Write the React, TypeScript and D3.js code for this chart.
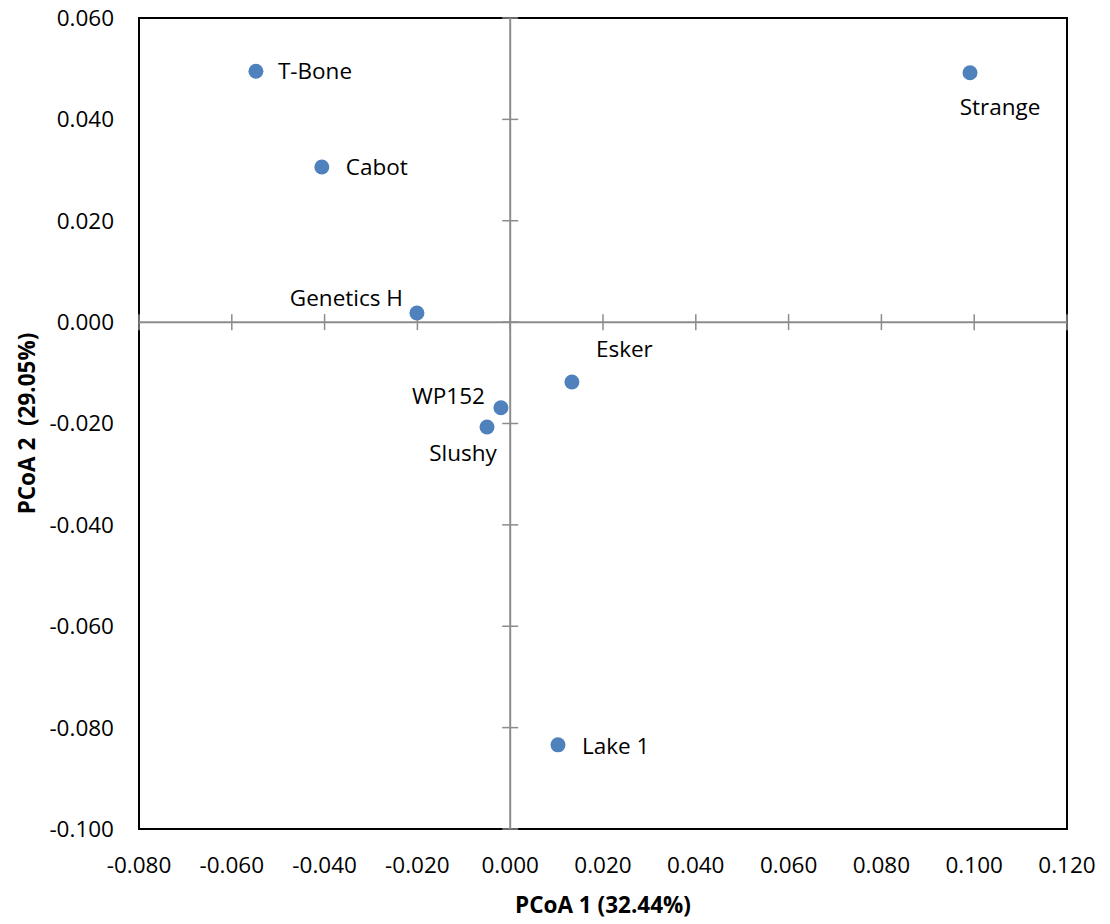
import React from "react";
import * as d3 from "d3";

const names = ["T-Bone", "Cabot", "Genetics H", "Strange", "Esker", "WP152", "Slushy", "Lake 1"];
const pcoa1 = [-0.0548, -0.0406, -0.0201, 0.0991, 0.0133, -0.002, -0.005, 0.0103];
const pcoa2 = [0.0495, 0.0306, 0.0018, 0.0492, -0.0118, -0.0169, -0.0207, -0.0834];
const xTicks = [-0.08, -0.06, -0.04, -0.02, 0, 0.02, 0.04, 0.06, 0.08, 0.1, 0.12];
const yTicks = [0.06, 0.04, 0.02, 0, -0.02, -0.04, -0.06, -0.08, -0.1];

// label placement (layout only)
const labelDx = [22, 24, -14, 30, 24, -16, -24, 24];
const labelDy = [0, 0, -15, 34, -33, -12, 26, 1];
const labelAnchor = ["start", "start", "end", "middle", "start", "end", "middle", "start"];

const W = 1110, H = 924;
const L = 139, R = 1067, T = 18, B = 829;
const FONT = "'Open Sans', sans-serif";
const FS = 22.5;

const fmtTick = (t: number) => {
  const s = d3.format(".3f")(Math.abs(t) < 1e-12 ? 0 : t);
  return s.replace("\u2212", "-");
};

export default function App() {
  const x = d3.scaleLinear().domain([-0.08, 0.12]).range([L, R]);
  const y = d3.scaleLinear().domain([-0.1, 0.06]).range([B, T]);
  const x0 = x(0), y0 = y(0);
  const gray = "#8c8c8c";
  return (
    <svg width={W} height={H} style={{ position: "absolute", left: 0, top: 0, background: "#fff" }}>
      <rect x={L} y={T} width={R - L} height={B - T} fill="none" stroke="#000" strokeWidth={2} />
      <line x1={L} x2={R} y1={y0} y2={y0} stroke={gray} strokeWidth={2} />
      <line x1={x0} x2={x0} y1={T} y2={B} stroke={gray} strokeWidth={2} />
      {xTicks.map((t, i) => (
        <line key={"xt" + i} x1={x(t)} x2={x(t)} y1={y0 - 8} y2={y0 + 8} stroke={gray} strokeWidth={1.5} />
      ))}
      {yTicks.map((t, i) => (
        <line key={"yt" + i} x1={x0 - 8} x2={x0 + 8} y1={y(t)} y2={y(t)} stroke={gray} strokeWidth={1.5} />
      ))}
      {xTicks.map((t, i) => (
        <text key={"xl" + i} x={x(t)} y={B + 44} textAnchor="middle" fontFamily={FONT} fontSize={FS} fill="#000">
          {fmtTick(t)}
        </text>
      ))}
      {yTicks.map((t, i) => (
        <text key={"yl" + i} x={L - 25} y={y(t)} dy="0.35em" textAnchor="end" fontFamily={FONT} fontSize={FS} fill="#000">
          {fmtTick(t)}
        </text>
      ))}
      {names.map((n, i) => (
        <circle key={"c" + i} cx={x(pcoa1[i])} cy={y(pcoa2[i])} r={7.5} fill="#4f81bd" />
      ))}
      {names.map((n, i) => (
        <text
          key={"n" + i}
          x={x(pcoa1[i]) + labelDx[i]}
          y={y(pcoa2[i]) + labelDy[i]}
          dy="0.35em"
          textAnchor={labelAnchor[i]}
          fontFamily={FONT}
          fontSize={FS}
          fill="#000"
        >
          {n}
        </text>
      ))}
      <text x={603} y={913} textAnchor="middle" fontFamily={FONT} fontSize={FS} fontWeight="bold">
        PCoA 1 (32.44%)
      </text>
      <text
        transform={`translate(${35},${(T + B) / 2}) rotate(-90)`}
        textAnchor="middle"
        fontFamily={FONT}
        fontSize={FS}
        fontWeight="bold"
        style={{ whiteSpace: "pre" }}
      >
        {"PCoA 2  (29.05%)"}
      </text>
    </svg>
  );
}
